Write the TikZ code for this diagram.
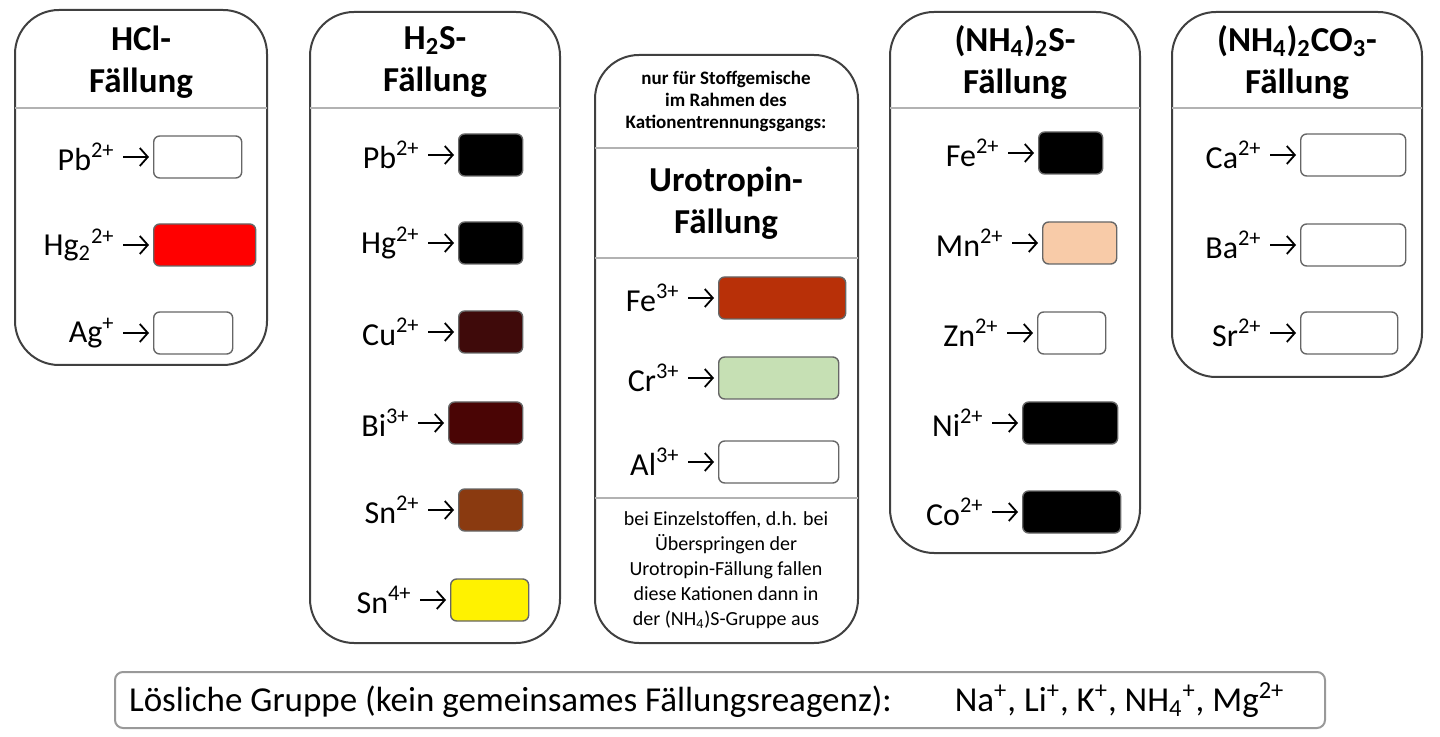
\documentclass[tikz,border=0pt]{standalone}
\usepackage{fontspec}
\setmainfont{Carlito}
\usetikzlibrary{positioning}
\usetikzlibrary{arrows.meta}
\definecolor{cuS}{HTML}{3F0A0A}
\definecolor{biS}{HTML}{4A0505}
\definecolor{snS}{HTML}{8A3A10}
\definecolor{feOH}{HTML}{B83008}
\definecolor{crOH}{HTML}{C6E0B4}
\definecolor{mnS}{HTML}{F8CBA8}
\definecolor{hgCl}{HTML}{FF0000}
\tikzset{
	group/.style={draw=black!75, line width=1pt, rounded corners=22pt},
	sep/.style={draw=black!30, line width=0.8pt},
	precip/.style={draw=black!60, line width=0.7pt, rounded corners=3pt},
	title/.style={font=\fontsize{17.5}{21}\selectfont\bfseries, align=center},
	note/.style={font=\fontsize{10}{12.5}\selectfont, align=center},
	ion/.style={font=\fontsize{16}{18}\selectfont, anchor=east, inner sep=1pt},
	react/.style={-{Straight Barb[length=4pt,width=9pt]}, line width=0.9pt}
}
% \ion{name}{x of box}{x of box end}{y}{label}{colour}
\newcommand\ion[6]{%
	\node[precip, fill=#6, minimum height=21pt, minimum width=(#3-#2)*0.5pt, anchor=west] (#1-box) at (#2,#4) {};
	\node[ion] (#1-lbl) at (#2-36,#4) {#5};
	\draw[react] (#1-lbl.east) ++(3pt,0) -- ([xshift=-2pt]#1-box.west);
}
\begin{document}
\begin{tikzpicture}[x=0.5pt, y=-0.5pt]
\useasboundingbox (0,0) rectangle (1440,737);

% HCl
\draw[group] (15,10) rectangle (267,365);
\draw[sep] (15,108) -- (267,108);
\node[title] (hcl) at (141,62) {HCl-\\Fällung};
\ion{hcl-pb}{153}{241}{157}{Pb\textsuperscript{2+}}{white}
\ion{hcl-hg}{153}{255}{245}{Hg\textsubscript{2}\textsuperscript{2+}}{hgCl}
\ion{hcl-ag}{153}{232}{333}{Ag\textsuperscript{+}}{white}

% H2S
\draw[group] (310,12) rectangle (560,643);
\draw[sep] (310,108) -- (560,108);
\node[title] (hs) at (435,62) {H\textsubscript{2}S-\\Fällung};
\ion{hs-pb}{458}{522}{155}{Pb\textsuperscript{2+}}{black}
\ion{hs-hg}{458}{522}{243}{Hg\textsuperscript{2+}}{black}
\ion{hs-cu}{458}{522}{332}{Cu\textsuperscript{2+}}{cuS}
\ion{hs-bi}{448}{522}{423}{Bi\textsuperscript{3+}}{biS}
\ion{hs-sn}{458}{522}{510}{Sn\textsuperscript{2+}}{snS}
\ion{hs-sniv}{450}{528}{600}{Sn\textsuperscript{4+}}{yellow}

% Urotropin
\draw[group] (595,55) rectangle (858,643);
\draw[sep] (595,148) -- (858,148);
\draw[sep] (595,258) -- (858,258);
\draw[sep] (595,498) -- (858,498);
\node[note, font=\fontsize{9.5}{11}\selectfont\bfseries] (uro-top) at (726,101) {nur für Stoffgemische\\im Rahmen des\\Kationentrennungsgangs:};
\node[title] (uro) at (726,203) {Urotropin-\\Fällung};
\ion{uro-fe}{718}{845}{298}{Fe\textsuperscript{3+}}{feOH}
\ion{uro-cr}{718}{838}{378}{Cr\textsuperscript{3+}}{crOH}
\ion{uro-al}{718}{838}{462}{Al\textsuperscript{3+}}{white}
\node[note] (uro-bot) at (726,570) {bei Einzelstoffen, d.h. bei\\Überspringen der\\Urotropin-Fällung fallen\\diese Kationen dann in\\der (NH\textsubscript{4})S-Gruppe aus};

% (NH4)2S
\draw[group] (890,12) rectangle (1140,553);
\draw[sep] (890,108) -- (1140,108);
\node[title] (ams) at (1015,62) {(NH\textsubscript{4})\textsubscript{2}S-\\Fällung};
\ion{ams-fe}{1038}{1102}{153}{Fe\textsuperscript{2+}}{black}
\ion{ams-mn}{1042}{1116}{243}{Mn\textsuperscript{2+}}{mnS}
\ion{ams-zn}{1037}{1105}{333}{Zn\textsuperscript{2+}}{white}
\ion{ams-ni}{1022}{1117}{423}{Ni\textsuperscript{2+}}{black}
\ion{ams-co}{1022}{1120}{512}{Co\textsuperscript{2+}}{black}

% (NH4)2CO3
\draw[group] (1172,12) rectangle (1422,377);
\draw[sep] (1172,108) -- (1422,108);
\node[title] (amc) at (1297,62) {(NH\textsubscript{4})\textsubscript{2}CO\textsubscript{3}-\\Fällung};
\ion{amc-ca}{1300}{1405}{155}{Ca\textsuperscript{2+}}{white}
\ion{amc-ba}{1300}{1405}{245}{Ba\textsuperscript{2+}}{white}
\ion{amc-sr}{1300}{1397}{333}{Sr\textsuperscript{2+}}{white}

% soluble group
\draw[draw=black!40, line width=1pt, rounded corners=4pt] (115,672) rectangle (1325,728);
\node[font=\fontsize{17.5}{19}\selectfont, anchor=west] (soluble) at (122,700) {Lösliche Gruppe (kein gemeinsames Fällungsreagenz):\hspace{1.8em}Na\textsuperscript{+}, Li\textsuperscript{+}, K\textsuperscript{+}, NH\textsubscript{4}\textsuperscript{+}, Mg\textsuperscript{2+}};
\end{tikzpicture}
\end{document}
